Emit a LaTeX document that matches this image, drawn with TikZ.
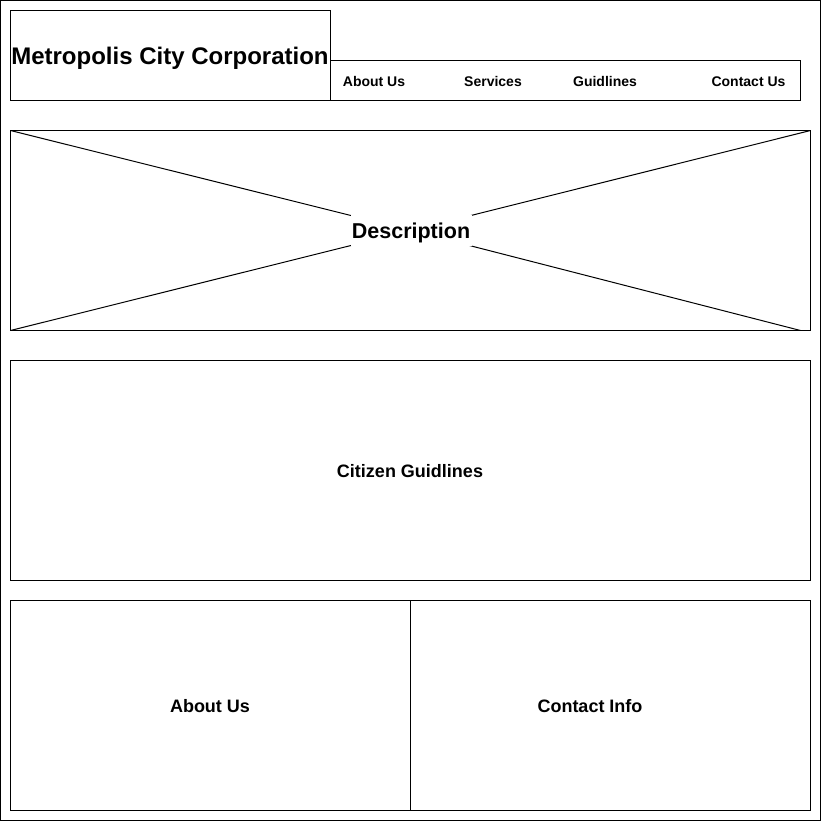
\documentclass[tikz,border=0pt]{standalone}
\usepackage{fontspec}
\setmainfont{Liberation Sans}
\begin{document}
\begin{tikzpicture}[x=1pt,y=-1pt,
  box/.style={draw=black,line width=1pt,fill=none},
  lbl/.style={font=\bfseries\fontsize{#1}{#1}\selectfont,inner sep=0pt,
    text height={0.716*#1pt},text depth=0pt},
  lbl/.default=18]
\useasboundingbox (0,0) rectangle (821,830);
% outer frame
\draw[box] (0.5,0.5) rectangle (820.5,820.5);
% title
\draw[box] (10.5,10.5) rectangle (330.5,100.5);
\node[lbl=24] (title) at (170,55.5) {Metropolis City Corporation};
% nav
\draw[box] (330.5,60.5) rectangle (800.5,100.5);
\node[lbl=14] (nav1) at (374,81.5) {About Us};
\node[lbl=14] (nav2) at (493,81.5) {Services};
\node[lbl=14] (nav3) at (605,81.5) {Guidlines};
\node[lbl=14] (nav4) at (748.5,81.5) {Contact Us};
% description
\draw[box] (10.5,130.5) rectangle (810.5,330.5);
\coordinate (c1) at (10.5,130.5);
\coordinate (c2) at (10.5,330.5);
\coordinate (c3) at (810.5,130.5);
\coordinate (c4) at (800.5,330.5);
\coordinate (mid) at (411,230.5);
\draw[line width=1pt] (c1) -- (mid) (c2) -- (mid) (c3) -- (mid) (c4) -- (mid);
\node[lbl=21.5,fill=white,minimum width=121pt,minimum height=31pt] (desc) at (mid) {Description};
% citizen guidelines
\draw[box] (10.5,360.5) rectangle (810.5,580.5);
\node[lbl=18] (cg) at (410,471) {Citizen Guidlines};
% bottom
\draw[box] (10.5,600.5) rectangle (410.5,810.5);
\draw[box] (410.5,600.5) rectangle (810.5,810.5);
\node[lbl=18] (about) at (210,706) {About Us};
\node[lbl=18] (contact) at (590,706) {Contact Info};
\end{tikzpicture}
\end{document}
